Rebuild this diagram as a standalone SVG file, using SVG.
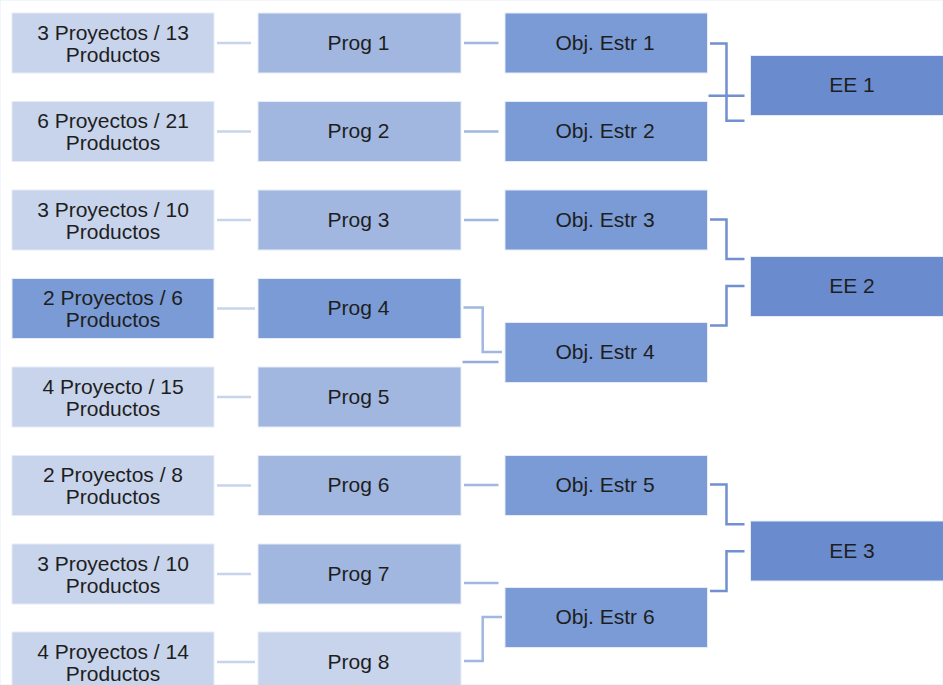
<svg xmlns="http://www.w3.org/2000/svg" width="943" height="685" viewBox="0 0 943 685">
<style>
text{font-family:"Liberation Sans",Arial,sans-serif;font-size:21px;fill:#1e1e1e;text-anchor:middle}
rect{stroke:#e6ecf7;stroke-width:1}
.l1{fill:#c8d4eb}
.l2{fill:#a1b7e0}
.l3{fill:#7a9bd5}
.l4{fill:#6a8cce}
.c1{stroke:#c8d4eb;stroke-width:2.5;fill:none}
.c2{stroke:#a1b7e0;stroke-width:2.5;fill:none}
.c3{stroke:#7090d0;stroke-width:2.5;fill:none}
</style>
<rect x="0" y="0" width="943" height="685" fill="#ffffff" stroke="none"/>
<g id="connectors">
<line class="c1" x1="217" y1="43" x2="251" y2="43"/>
<line class="c1" x1="217" y1="131.5" x2="251" y2="131.5"/>
<line class="c1" x1="217" y1="220" x2="251" y2="220"/>
<line class="c1" x1="217" y1="308.5" x2="255" y2="308.5"/>
<line class="c1" x1="217" y1="397" x2="251" y2="397"/>
<line class="c1" x1="217" y1="485.5" x2="251" y2="485.5"/>
<line class="c1" x1="217" y1="574" x2="251" y2="574"/>
<line class="c1" x1="217" y1="662" x2="255" y2="662"/>
<line class="c2" x1="464" y1="43" x2="498.5" y2="43"/>
<line class="c2" x1="464" y1="131.5" x2="498.5" y2="131.5"/>
<line class="c2" x1="464" y1="220" x2="498.5" y2="220"/>
<polyline class="c2" points="463.5,307.5 482.7,307.5 482.7,352 502,352"/>
<line class="c2" x1="462.5" y1="362" x2="498.5" y2="362" style="stroke:#95abdb"/>
<line class="c2" x1="464" y1="485" x2="498.5" y2="485"/>
<line class="c2" x1="464" y1="583" x2="498.5" y2="583"/>
<polyline class="c2" points="464,661 482.7,661 482.7,617 502,617"/>
<polyline class="c3" points="710,43.5 726.5,43.5 726.5,120.7 744.5,120.7"/>
<line class="c3" x1="708.5" y1="95.7" x2="744.5" y2="95.7"/>
<polyline class="c3" points="710,219.5 726.5,219.5 726.5,259 744.5,259"/>
<polyline class="c3" points="710,325.5 726.5,325.5 726.5,286 744.5,286"/>
<polyline class="c3" points="710,484.5 726.5,484.5 726.5,524.3 744.5,524.3"/>
<polyline class="c3" points="710,591 726.5,591 726.5,551.3 744.5,551.3"/>
</g>
<g id="p1"><rect class="l1" x="12" y="13" width="202" height="60"/><text x="113" y="39.5">3 Proyectos / 13</text><text x="113" y="61.5">Productos</text></g>
<g id="p2"><rect class="l1" x="12" y="101.5" width="202" height="60"/><text x="113" y="128">6 Proyectos / 21</text><text x="113" y="150">Productos</text></g>
<g id="p3"><rect class="l1" x="12" y="190" width="202" height="60"/><text x="113" y="216.5">3 Proyectos / 10</text><text x="113" y="238.5">Productos</text></g>
<g id="p4"><rect class="l3" x="12" y="278.5" width="202" height="60"/><text x="113" y="305">2 Proyectos / 6</text><text x="113" y="327">Productos</text></g>
<g id="p5"><rect class="l1" x="12" y="367" width="202" height="60"/><text x="113" y="393.5">4 Proyecto / 15</text><text x="113" y="415.5">Productos</text></g>
<g id="p6"><rect class="l1" x="12" y="455.5" width="202" height="60"/><text x="113" y="482">2 Proyectos / 8</text><text x="113" y="504">Productos</text></g>
<g id="p7"><rect class="l1" x="12" y="544" width="202" height="60"/><text x="113" y="570.5">3 Proyectos / 10</text><text x="113" y="592.5">Productos</text></g>
<g id="p8"><rect class="l1" x="12" y="632" width="202" height="60"/><text x="113" y="658.5">4 Proyectos / 14</text><text x="113" y="680.5">Productos</text></g>
<g id="prog1"><rect class="l2" x="258" y="13" width="203" height="60"/><text x="358.5" y="49.5">Prog 1</text></g>
<g id="prog2"><rect class="l2" x="258" y="101.5" width="203" height="60"/><text x="358.5" y="138">Prog 2</text></g>
<g id="prog3"><rect class="l2" x="258" y="190" width="203" height="60"/><text x="358.5" y="226.5">Prog 3</text></g>
<g id="prog4"><rect class="l3" x="258" y="278.5" width="203" height="60"/><text x="358.5" y="315">Prog 4</text></g>
<g id="prog5"><rect class="l2" x="258" y="367" width="203" height="60"/><text x="358.5" y="403.5">Prog 5</text></g>
<g id="prog6"><rect class="l2" x="258" y="455.5" width="203" height="60"/><text x="358.5" y="492">Prog 6</text></g>
<g id="prog7"><rect class="l2" x="258" y="544" width="203" height="60"/><text x="358.5" y="580.5">Prog 7</text></g>
<g id="prog8"><rect class="l1" x="258" y="632" width="203" height="60"/><text x="358.5" y="668.5">Prog 8</text></g>
<g id="oe1"><rect class="l3" x="505" y="13" width="202.5" height="60"/><text x="605" y="49.5">Obj. Estr 1</text></g>
<g id="oe2"><rect class="l3" x="505" y="101.5" width="202.5" height="60"/><text x="605" y="138">Obj. Estr 2</text></g>
<g id="oe3"><rect class="l3" x="505" y="190" width="202.5" height="60"/><text x="605" y="226.5">Obj. Estr 3</text></g>
<g id="oe4"><rect class="l3" x="505" y="322.5" width="202.5" height="60"/><text x="605" y="359">Obj. Estr 4</text></g>
<g id="oe5"><rect class="l3" x="505" y="455.5" width="202.5" height="60"/><text x="605" y="492">Obj. Estr 5</text></g>
<g id="oe6"><rect class="l3" x="505" y="587.5" width="202.5" height="60"/><text x="605" y="624">Obj. Estr 6</text></g>
<g id="ee1"><rect class="l4" x="750.5" y="55.5" width="200" height="60"/><text x="852" y="92">EE 1</text></g>
<g id="ee2"><rect class="l4" x="750.5" y="256.5" width="200" height="60"/><text x="852" y="293">EE 2</text></g>
<g id="ee3"><rect class="l4" x="750.5" y="521" width="200" height="60"/><text x="852" y="557.5">EE 3</text></g>
</svg>
